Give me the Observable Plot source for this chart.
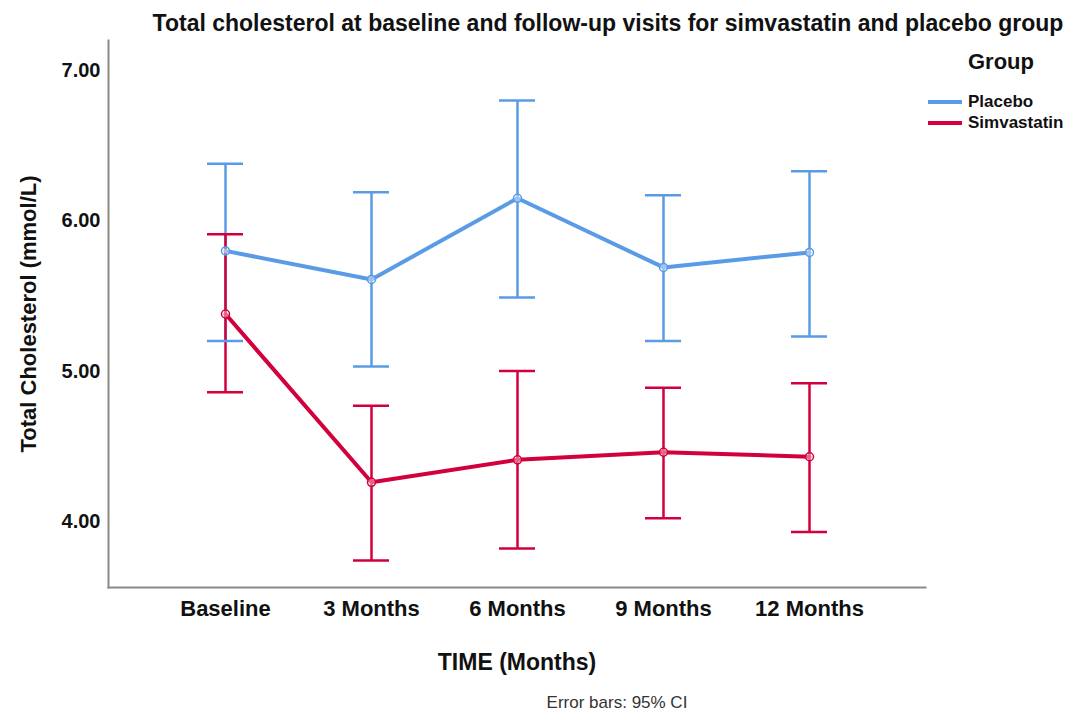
<!DOCTYPE html>
<html><head><meta charset="utf-8">
<script src="https://cdn.jsdelivr.net/npm/d3@7"></script>
<script src="https://cdn.jsdelivr.net/npm/@observablehq/plot@0.6"></script>
<style>
body{margin:0;background:#fff;font-family:"Liberation Sans",Arial,sans-serif;}
#wrap{position:relative;width:1080px;height:715px;overflow:hidden;}
#title{position:absolute;left:0;width:1080px;top:10px;text-align:center;padding-left:136px;box-sizing:border-box;font-weight:bold;font-size:23px;color:#111;white-space:nowrap;}
#chart{position:absolute;left:0;top:0;}
#legend{position:absolute;left:928px;top:49px;color:#111;}
#legend .lt{font-weight:bold;font-size:22px;margin-left:40px;margin-bottom:16px;}
#legend .row{display:flex;align-items:center;height:21px;font-weight:bold;font-size:17px;}
#legend .sw{width:34px;height:4px;margin-right:6px;}
#caption{position:absolute;left:0;width:1234px;text-align:center;top:693px;font-size:17px;color:#333;}
</style></head><body>
<div id="wrap">
  <div id="chart"></div>
  <div id="title">Total cholesterol at baseline and follow-up visits for simvastatin and placebo group</div>
  <div id="legend"></div>
  <div id="caption">Error bars: 95% CI</div>
</div>
<script>
const timepoints = ["Baseline", "3 Months", "6 Months", "9 Months", "12 Months"];
const groups = ["Placebo", "Simvastatin"];
const groupColors = ["#5a9be6", "#d2003c"];
const placeboMean  = [5.80, 5.61, 6.15, 5.69, 5.79];
const placeboLower = [5.20, 5.03, 5.49, 5.20, 5.23];
const placeboUpper = [6.38, 6.19, 6.80, 6.17, 6.33];
const simvaMean  = [5.38, 4.26, 4.41, 4.46, 4.43];
const simvaLower = [4.86, 3.74, 3.82, 4.02, 3.93];
const simvaUpper = [5.91, 4.77, 5.00, 4.89, 4.92];
const yTicks = [4, 5, 6, 7];
const yDomain = [3.56, 7.2];

const rows = [];
timepoints.forEach((t, i) => {
  rows.push({time: t, group: "Placebo", mean: placeboMean[i], lo: placeboLower[i], hi: placeboUpper[i]});
});
timepoints.forEach((t, i) => {
  rows.push({time: t, group: "Simvastatin", mean: simvaMean[i], lo: simvaLower[i], hi: simvaUpper[i]});
});

const font = '"Liberation Sans", Arial, sans-serif';
const chart = Plot.plot({
  width: 1080,
  height: 680,
  marginTop: 40,
  marginBottom: 93,
  marginLeft: 108,
  marginRight: 155,
  style: {fontFamily: font, background: "white", color: "#111"},
  x: {type: "point", domain: timepoints, padding: 0.78, label: null},
  y: {domain: yDomain, label: null},
  color: {domain: groups, range: groupColors},
  marks: [
    Plot.frame({anchor: "left", stroke: "#8a8a8a", strokeWidth: 2}),
    Plot.frame({anchor: "bottom", stroke: "#8a8a8a", strokeWidth: 2}),
    Plot.axisY({ticks: yTicks, tickFormat: d3.format(".2f"), tickSize: 0, tickPadding: 8, fontSize: 20, fontWeight: "bold", label: null}),
    Plot.axisY({ticks: [], tickSize: 0, label: "Total Cholesterol (mmol/L)", labelAnchor: "center", labelArrow: "none", labelOffset: 88, fontSize: 22, fontWeight: 600}),
    Plot.axisX({tickSize: 0, tickPadding: 13, fontSize: 22, fontWeight: "bold", label: null}),
    Plot.axisX({ticks: [], tickSize: 0, label: "TIME (Months)", labelAnchor: "center", labelArrow: "none", labelOffset: 82, fontSize: 23, fontWeight: "bold"}),
    Plot.ruleX(rows, {x: "time", y1: "lo", y2: "hi", stroke: "group", strokeWidth: 2.5}),
    Plot.ruleY(rows, {x1: "time", x2: "time", y: "lo", stroke: "group", strokeWidth: 2.5, insetLeft: -18, insetRight: -18}),
    Plot.ruleY(rows, {x1: "time", x2: "time", y: "hi", stroke: "group", strokeWidth: 2.5, insetLeft: -18, insetRight: -18}),
    Plot.line(rows, {x: "time", y: "mean", z: "group", stroke: "group", strokeWidth: 4}),
    Plot.dot(rows, {x: "time", y: "mean", stroke: "group", r: 4, strokeWidth: 1.5, fill: "white", fillOpacity: 0.4})
  ]
});
document.getElementById("chart").appendChild(chart);

const legend = document.getElementById("legend");
const lt = document.createElement("div");
lt.className = "lt"; lt.textContent = "Group";
legend.appendChild(lt);
groups.forEach((g, i) => {
  const r = document.createElement("div"); r.className = "row";
  const sw = document.createElement("span"); sw.className = "sw"; sw.style.background = groupColors[i];
  const tx = document.createElement("span"); tx.textContent = g;
  r.appendChild(sw); r.appendChild(tx); legend.appendChild(r);
});
</script>
</body></html>
